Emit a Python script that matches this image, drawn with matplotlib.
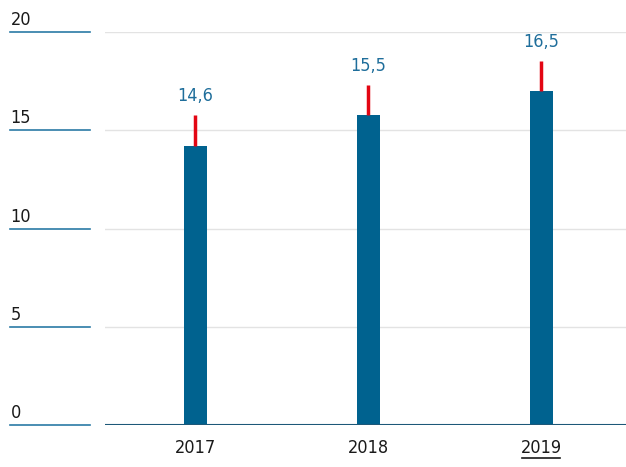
import matplotlib.pyplot as plt
import matplotlib.transforms as mtransforms
import numpy as np

plt.rcParams['font.family'] = ['DejaVu Sans']
plt.rcParams['font.stretch'] = 'condensed'

years = ['2017', '2018', '2019']
bar_vals = [14.2, 15.77, 16.99]
red_tops = [15.77, 17.3, 18.52]
labels = ['14,6', '15,5', '16,5']
yticks = [0, 5, 10, 15, 20]

W, H = 626, 467
fig = plt.figure(figsize=(W / 100, H / 100), dpi=100)
ax = fig.add_axes([105 / W, 1 - 425 / H, 1 - 105 / W, (425 - 32.3) / H])

x = np.arange(len(years))
ax.set_xlim(-0.523, 2.49)
ax.set_ylim(0, 20)

for v in yticks[1:]:
    ax.axhline(v, color='#e3e3e3', lw=1.0, zorder=0)
ax.axhline(0, color='#1d5878', lw=1.5, zorder=3)

ax.bar(x, bar_vals, width=0.133, color='#00628f', zorder=2)
ax.vlines(x, bar_vals, red_tops, color='#e30613', lw=2.5, zorder=2)
for xi, top, lab in zip(x, red_tops, labels):
    ax.text(xi, top + 1.0, lab, ha='center', va='center', fontsize=13, color='#1f6e9b')

# short tick rules and labels on the left
tr = mtransforms.blended_transform_factory(fig.transFigure, ax.transData)
for v in yticks:
    ax.plot([10.4 / W, 89.7 / W], [v, v], transform=tr, color='#2b7aa5', lw=1.2, clip_on=False)
    ax.text(10.5 / W, v + 0.36, str(v), transform=tr, ha='left', va='baseline', fontsize=13, color='#1a1a1a')

ax.set_xticks(x)
ax.set_xticklabels(years)
ax.tick_params(axis='x', length=0, labelsize=13, pad=10, colors='#1a1a1a')
ax.set_yticks([])
for s in ax.spines.values():
    s.set_visible(False)

# underline on the last year
ax.plot([x[2] - 0.11, x[2] + 0.11], [-1.7, -1.7], color='#1a1a1a', lw=1.2, clip_on=False)

fig.savefig('out.png', dpi=100)
